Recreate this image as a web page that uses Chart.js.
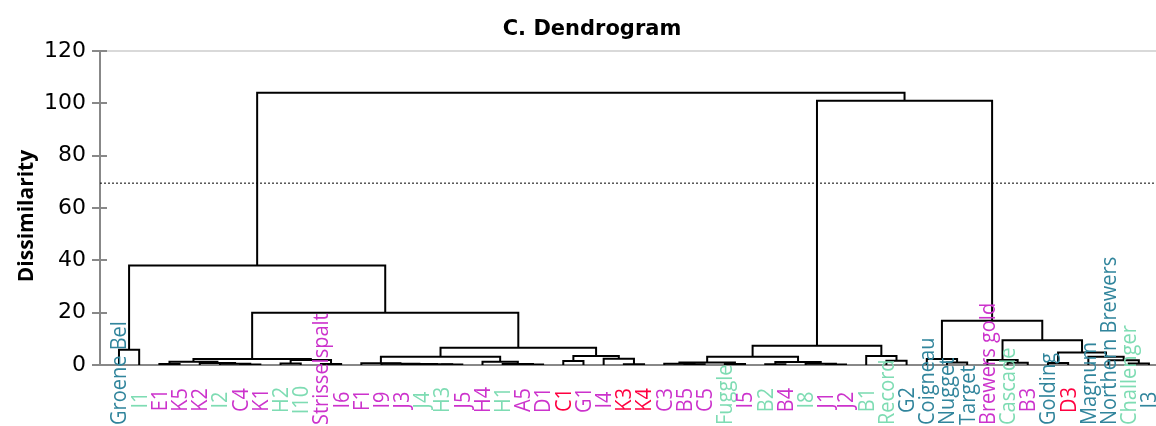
<!DOCTYPE html>
<html>
<head>
<meta charset="utf-8">
<script src="https://cdn.jsdelivr.net/npm/chart.js@4.4.1/dist/chart.umd.min.js"></script>
<style>
  html, body { margin: 0; background: #fff; }
  #wrap { width: 1156px; height: 426px; }
</style>
</head>
<body>
<div id="wrap"><canvas id="dendro"></canvas></div>
<script>
// leaves in the order the dendrogram shows them
const leaves = ["Groene Bel", "I1", "E1", "K5", "K2", "I2", "C4", "K1", "H2", "I10",
  "Strisselspalt", "I6", "F1", "I9", "J3", "J4", "H3", "J5", "H4", "H1",
  "A5", "D1", "C1", "G1", "I4", "K3", "K4", "C3", "B5", "C5",
  "Fuggle", "I5", "B2", "B4", "I8", "J1", "J2", "B1", "Record", "G2",
  "Coigneau", "Nugget", "Target", "Brewers gold", "Cascade", "B3", "Golding", "D3", "Magnum", "Northern Brewers",
  "Challenger", "I3"];

const leafGroup = ["blue", "green", "magenta", "magenta", "magenta", "green", "magenta", "magenta", "green", "green",
  "magenta", "magenta", "magenta", "magenta", "magenta", "green", "green", "magenta", "magenta", "green",
  "magenta", "magenta", "red", "magenta", "magenta", "red", "red", "magenta", "magenta", "magenta",
  "green", "magenta", "green", "magenta", "green", "magenta", "magenta", "green", "green", "blue",
  "blue", "blue", "blue", "magenta", "green", "magenta", "blue", "red", "blue", "blue",
  "green", "blue"];

const groupColors = { blue: "#31859c", green: "#7edcb3", magenta: "#cc33cc", red: "#ff0040" };

// merges: [left, right, height]; a string is a leaf, a number is an earlier merge
const merges = [
  ["Groene Bel", "I1", 5.8],   // 0
  ["E1", "K5", 0.4],           // 1
  ["C4", "K1", 0.2],           // 2
  ["I2", 2, 0.5],              // 3
  ["K2", 3, 0.8],              // 4
  [1, 4, 1.2],                 // 5
  ["H2", "I10", 0.6],          // 6
  ["Strisselspalt", "I6", 0.4],// 7
  [6, 7, 1.9],                 // 8
  [5, 8, 2.3],                 // 9
  ["H3", "J5", 0.2],           // 10
  ["J4", 10, 0.3],             // 11
  ["J3", 11, 0.4],             // 12
  ["I9", 12, 0.5],             // 13
  ["F1", 13, 0.7],             // 14
  ["A5", "D1", 0.2],           // 15
  ["H1", 15, 0.4],             // 16
  ["H4", 16, 1.2],             // 17
  [14, 17, 3.2],               // 18
  ["C1", "G1", 1.5],           // 19
  ["K3", "K4", 0.3],           // 20
  ["I4", 20, 2.4],             // 21
  [19, 21, 3.4],               // 22
  [18, 22, 6.6],               // 23
  [9, 23, 20.0],               // 24
  [0, 24, 38.0],               // 25
  ["B5", "C5", 0.3],           // 26
  ["C3", 26, 0.5],             // 27
  ["Fuggle", "I5", 0.4],       // 28
  [27, 28, 1.0],               // 29
  ["B2", "B4", 0.3],           // 30
  ["J1", "J2", 0.2],           // 31
  ["I8", 31, 0.5],             // 32
  [30, 32, 1.1],               // 33
  [29, 33, 3.2],               // 34
  ["Record", "G2", 1.6],       // 35
  ["B1", 35, 3.4],             // 36
  [34, 36, 7.4],               // 37
  ["Nugget", "Target", 1.0],   // 38
  ["Coigneau", 38, 2.3],       // 39
  ["Cascade", "B3", 0.9],      // 40
  ["Brewers gold", 40, 1.9],   // 41
  ["Golding", "D3", 0.8],      // 42
  ["Challenger", "I3", 0.6],   // 43
  ["Northern Brewers", 43, 1.8], // 44
  ["Magnum", 44, 3.2],         // 45
  [42, 45, 4.8],               // 46
  [41, 46, 9.5],               // 47
  [39, 47, 16.9],              // 48
  [37, 48, 101.0],             // 49
  [25, 49, 104.0]              // 50
];

const cutoff = 69.5;
const yTicks = [0, 20, 40, 60, 80, 100, 120];
const chartTitle = "C. Dendrogram";
const yTitle = "Dissimilarity";

// node position: leaves sit at 1..n, a merge sits between its children
const nodePos = [];
function pos(ref) {
  if (typeof ref === "string") return { x: leaves.indexOf(ref) + 1, y: 0 };
  return nodePos[ref];
}

const datasets = [];
merges.forEach(m => {
  const a = pos(m[0]), b = pos(m[1]);
  nodePos.push({ x: (a.x + b.x) / 2, y: m[2] });
  datasets.push({
    data: [{ x: a.x, y: a.y }, { x: a.x, y: m[2] }, { x: b.x, y: m[2] }, { x: b.x, y: b.y }],
    showLine: true,
    borderColor: "#000",
    borderWidth: 2,
    pointRadius: 0,
    tension: 0
  });
});

const xMin = 0.06, xMax = 52.35;

datasets.push({
  data: [{ x: xMin, y: cutoff }, { x: xMax, y: cutoff }],
  showLine: true,
  borderColor: "#000",
  borderWidth: 1,
  borderDash: [2, 2],
  pointRadius: 0
});

// titles, leaf labels, inner half of the y ticks
const extras = {
  id: "extras",
  afterDraw(chart) {
    const ctx = chart.ctx;
    const xs = chart.scales.x, ys = chart.scales.y;
    ctx.save();

    ctx.fillStyle = "#000";
    ctx.font = 'bold 21px "DejaVu Sans"';
    ctx.textAlign = "center";
    ctx.textBaseline = "middle";
    ctx.fillText(chartTitle, 592, 30);

    ctx.save();
    ctx.translate(27, 216);
    ctx.rotate(-Math.PI / 2);
    ctx.font = 'bold 21px "Open Sans"';
    ctx.fillText(yTitle, 0, 0);
    ctx.restore();

    ctx.font = '20px "Open Sans"';
    leaves.forEach((name, i) => {
      const px = xs.getPixelForValue(i + 1);
      const w = ctx.measureText(name).width;
      // centred a bit under the axis, pushed up when it would run off the bottom
      const bottom = Math.min(ys.bottom + 35 + w / 2, chart.height - 1);
      ctx.save();
      ctx.translate(px + 1, bottom);
      ctx.rotate(-Math.PI / 2);
      ctx.scale(1, 1.12);
      ctx.fillStyle = groupColors[leafGroup[i]];
      ctx.textAlign = "left";
      ctx.textBaseline = "middle";
      ctx.fillText(name, 0, 0);
      ctx.restore();
    });

    ctx.strokeStyle = "#888";
    ctx.lineWidth = 2;
    yTicks.forEach(v => {
      const py = Math.round(ys.getPixelForValue(v));
      ctx.beginPath();
      ctx.moveTo(xs.left, py);
      ctx.lineTo(xs.left + 7, py);
      ctx.stroke();
    });
    ctx.restore();
  }
};

new Chart(document.getElementById("dendro"), {
  type: "scatter",
  data: { datasets },
  plugins: [extras],
  options: {
    responsive: true,
    maintainAspectRatio: false,
    animation: false,
    layout: { padding: { top: 51 } },
    plugins: {
      legend: { display: false },
      tooltip: { enabled: false },
      title: { display: false }
    },
    scales: {
      x: {
        type: "linear",
        min: xMin,
        max: xMax,
        ticks: { display: false },
        grid: { display: true, drawOnChartArea: false, drawTicks: false },
        border: { display: true, color: "#888", width: 2 },
        afterFit(scale) { scale.height = 61; }
      },
      y: {
        min: 0,
        max: 120,
        ticks: {
          stepSize: 20,
          color: "#000",
          padding: 6,
          font: { family: "DejaVu Sans", size: 22 }
        },
        grid: {
          drawOnChartArea: true,
          color: c => (c.tick && c.tick.value === 120 ? "#d9d9d9" : "transparent"),
          tickColor: "#888",
          tickLength: 8,
          lineWidth: 2
        },
        border: { display: true, color: "#888", width: 2 },
        afterFit(scale) { scale.width = 100; }
      }
    }
  }
});
</script>
</body>
</html>
